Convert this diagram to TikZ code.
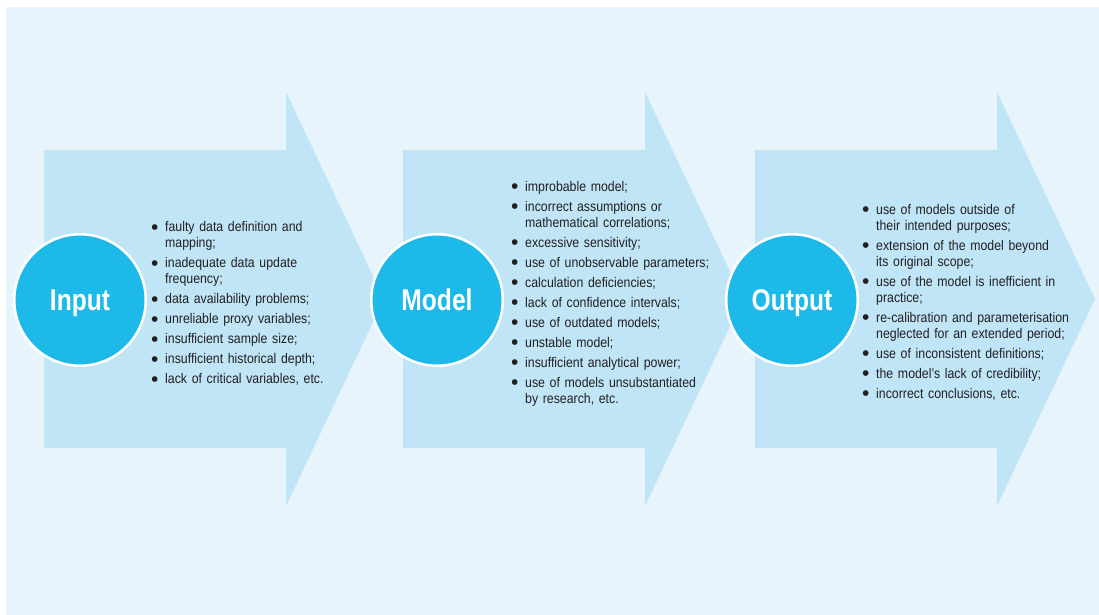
\documentclass[tikz,border=0pt]{standalone}
\usepackage{fontspec}
\setmainfont{Liberation Sans}
\newfontfamily\bodyfont[FakeStretch=0.88]{Liberation Sans}
\newfontfamily\titlefont[FakeStretch=0.82]{Liberation Sans}
\newfontfamily\bulfont{Liberation Sans}
\definecolor{bgblue}{HTML}{E8F4FB}
\definecolor{arrowblue}{HTML}{BFE5F7}
\definecolor{circblue}{HTML}{1CB9E9}
\definecolor{txtgray}{HTML}{231F20}
\newcommand{\bitem}[1]{\noindent\hangindent=13pt\hangafter=1\makebox[13pt][l]{\hspace{-1pt}\raisebox{-2.2pt}{\bulfont\fontsize{21}{16}\selectfont\textbullet}}#1\par}
\begin{document}
\begin{tikzpicture}[x=1pt,y=-1pt,
  bg/.style={fill=bgblue},
  bigarrow/.style={fill=arrowblue},
  stage/.style={circle,fill=circblue,draw=white,line width=2.5pt,minimum size=131.5pt,inner sep=0pt,text=white,text height=21pt,text depth=0pt,font=\titlefont\bfseries\fontsize{30}{30}\selectfont},
  blist/.style={anchor=north west,inner sep=0pt,text width=230pt,text=txtgray,font=\bodyfont\fontsize{14}{16}\selectfont}]
\useasboundingbox (0,0) rectangle (1099,615);
\fill[white] (0,0) rectangle (1099,615);
\fill[bg] (6,7) rectangle (1099,615);
\fill[bigarrow] (44,150) -- (286,150) -- (286,92) -- (384,299) -- (286,506) -- (286,448) -- (44,448) -- cycle;
\fill[bigarrow] (403,150) -- (645,150) -- (645,92) -- (743,299) -- (645,506) -- (645,448) -- (403,448) -- cycle;
\fill[bigarrow] (755,150) -- (997,150) -- (997,92) -- (1095,299) -- (997,506) -- (997,448) -- (755,448) -- cycle;
\node[stage] (inp) at (80,300) {Input};
\node[stage] (mod) at (437,300) {Model};
\node[stage] (outp) at (792,300) {Output};
\node[blist] (inlist) at (152,221.5) {\raggedright\setlength\parskip{4pt}%
\bitem{faulty data definition and\newline mapping;}
\bitem{inadequate data update\newline frequency;}
\bitem{data availability problems;}
\bitem{unreliable proxy variables;}
\bitem{insufficient sample size;}
\bitem{insufficient historical depth;}
\bitem{lack of critical variables, etc.}};
\node[blist] (modlist) at (512,181) {\raggedright\setlength\parskip{4pt}%
\bitem{improbable model;}
\bitem{incorrect assumptions or\newline mathematical correlations;}
\bitem{excessive sensitivity;}
\bitem{use of unobservable parameters;}
\bitem{calculation deficiencies;}
\bitem{lack of confidence intervals;}
\bitem{use of outdated models;}
\bitem{unstable model;}
\bitem{insufficient analytical power;}
\bitem{use of models unsubstantiated\newline by research, etc.}};
\node[blist] (outlist) at (863,204) {\raggedright\setlength\parskip{4pt}%
\bitem{use of models outside of\newline their intended purposes;}
\bitem{extension of the model beyond\newline its original scope;}
\bitem{use of the model is inefficient in\newline practice;}
\bitem{re-calibration and parameterisation\newline neglected for an extended period;}
\bitem{use of inconsistent definitions;}
\bitem{the model’s lack of credibility;}
\bitem{incorrect conclusions, etc.}};
\end{tikzpicture}
\end{document}
